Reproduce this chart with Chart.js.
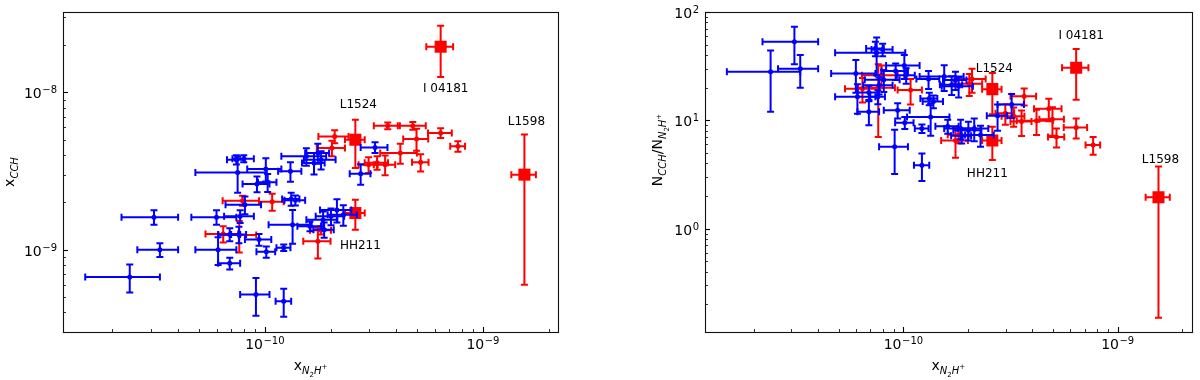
<!DOCTYPE html>
<html><head><meta charset="utf-8">
<script src="https://cdn.jsdelivr.net/npm/chart.js@4.4.1/dist/chart.umd.min.js"></script>
<style>
html,body{margin:0;padding:0;background:#fff;}
#wrap{display:flex;width:1200px;height:380px;}
canvas{display:block;}
</style></head><body>
<div id="wrap"><canvas id="c1" width="600" height="380"></canvas><canvas id="c2" width="600" height="380"></canvas></div>
<script>
// ---------------- DATA ----------------
// Blue sample: x_N2H+ (shared by both panels)
const blueX    = [2.4e-11,3.1e-11,3.3e-11,6.0e-11,6.1e-11,6.9e-11,9.1e-11,1.22e-10,7.5e-11,1.01e-10,1.31e-10,9.2e-11,1.03e-10,1.55e-10,1.68e-10,1.75e-10,1.81e-10,3.2e-10,2.75e-10,7.4e-11,8.0e-11,8.1e-11,7.7e-11,1.32e-10,1.38e-10,1.34e-10,1.61e-10,1.85e-10,2.01e-10,2.14e-10,2.29e-10,1.87e-10,6.9e-11,7.6e-11,9.4e-11,1.015e-10,1.22e-10];
const blueXErr = [0.9e-11,0.9e-11,0.7e-11,1.4e-11,1.3e-11,0.8e-11,1.4e-11,0.1e-10,2.7e-11,0.18e-10,0.16e-10,1.3e-11,0.1e-10,0.36e-10,0.2e-10,0.22e-10,0.3e-10,0.45e-10,0.3e-10,0.7e-11,0.9e-11,1.5e-11,1.2e-11,0.12e-10,0.15e-10,0.3e-10,0.2e-10,0.3e-10,0.3e-10,0.35e-10,0.35e-10,0.2e-10,0.8e-11,0.6e-11,1.3e-11,0.1e-10,0.09e-10];
// Left panel: x_CCH
const blueXcch    = [6.7e-10,1.61e-9,1.0e-9,1.61e-9,1.0e-9,8.2e-10,5.2e-10,4.7e-10,3.1e-9,3.26e-9,3.15e-9,2.62e-9,2.68e-9,3.92e-9,3.56e-9,4.12e-9,3.73e-9,4.47e-9,3.04e-9,3.73e-9,3.79e-9,1.93e-9,1.63e-9,2.1e-9,2.06e-9,1.44e-9,1.41e-9,1.55e-9,1.63e-9,1.79e-9,1.67e-9,1.34e-9,1.25e-9,1.25e-9,1.16e-9,9.7e-10,1.03e-9];
const blueXcchErr = [1.35e-10,0.17e-9,0.1e-9,0.17e-9,0.2e-9,0.7e-10,1.4e-10,0.95e-10,0.8e-9,0.55e-9,0.45e-9,0.3e-9,0.35e-9,0.5e-9,0.55e-9,0.6e-9,0.5e-9,0.35e-9,0.45e-9,0.25e-9,0.2e-9,0.25e-9,0.15e-9,0.2e-9,0.15e-9,0.35e-9,0.1e-9,0.2e-9,0.2e-9,0.3e-9,0.25e-9,0.15e-9,0.12e-9,0.15e-9,0.1e-9,0.8e-10,0.05e-9];
// Right panel: N_CCH / N_N2H+
const blueRatio    = [28,53,30,27,16.5,12,5.7,3.85,42,32,24,28.5,26,25.4,21.3,23.5,20.6,14,11,46,45,23.7,21.1,15.9,14.9,10.7,8.8,8.4,8.1,8.4,7.3,7.2,18.1,16.5,12.4,9.5,8.4];
const blueRatioErr = [16,20,10,9,5,3,2.5,1.1,16,8,4.5,5,4.2,6.8,4.2,4.5,4.4,3.5,3,7,6,5.4,3.8,2.1,2,3.5,1.3,1.7,1.6,2,1.6,1.1,2.7,2.4,2,1.2,0.75];

// Red sample (small markers)
const redX    = [3.66e-10,4.77e-10,6.4e-10,4.96e-10,7.68e-10,4.18e-10,5.18e-10,2.09e-10,2.03e-10,2.99e-10,3.27e-10,3.56e-10,7.9e-11,1.08e-10,6.44e-11,7.63e-11,1.75e-10,1.81e-10];
const redXErr = [0.5e-10,0.7e-10,0.8e-10,0.65e-10,0.6e-10,0.8e-10,0.45e-10,0.33e-10,0.3e-10,0.3e-10,0.4e-10,0.4e-10,1.5e-11,0.14e-10,1.1e-11,1.5e-11,0.25e-10,0.2e-10];
const redXcch    = [6.13e-9,6.13e-9,5.52e-9,5.06e-9,4.54e-9,4.12e-9,3.59e-9,5.25e-9,4.43e-9,3.47e-9,3.57e-9,3.47e-9,2.05e-9,2.02e-9,1.26e-9,1.24e-9,1.13e-9,1.33e-9];
const redXcchErr = [0.3e-9,0.35e-9,0.4e-9,0.8e-9,0.35e-9,0.6e-9,0.45e-9,0.5e-9,0.5e-9,0.4e-9,0.35e-9,0.5e-9,0.15e-9,0.25e-9,0.15e-9,0.28e-9,0.25e-9,0.08e-9];
const redRatio    = [16.7,12.8,8.6,10.2,5.9,9.9,7.0,24,21.8,11.6,10.9,9.75,26,19,19.6,20,6.5,7.35];
const redRatioErr = [3,3,1.8,3,1.1,2.6,1.4,6,5,2.5,2.2,2.6,6,5,5,13,2,1.2];

// Named sources (big red squares)
const srcNames    = ['I 04181','L1524','HH211','L1598'];
const srcX        = [6.4e-10,2.6e-10,2.6e-10,1.55e-9];
const srcXErr     = [0.9e-10,0.27e-10,0.27e-10,0.2e-9];
const srcXcch     = [1.95e-8,5.0e-9,1.71e-9,3.0e-9];
const srcXcchErr  = [0.7e-8,1.7e-9,0.37e-9,2.4e-9];
const srcRatio    = [30.5,19.4,6.5,1.95];
const srcRatioErr = [15,8,2.2,1.8];

// Tick labels (base ^ exponent)
const xMajorTicks = [1e-10, 1e-9];
const xTickLabels = ['10^\u221210', '10^\u22129'];
const leftYMajorTicks = [1e-9, 1e-8];
const leftYTickLabels = ['10^\u22129', '10^\u22128'];
const rightYMajorTicks = [1, 10, 100];
const rightYTickLabels = ['10^0', '10^1', '10^2'];

// ---------------- RENDERING ----------------
const FONT = "'DejaVu Sans', 'Liberation Sans', sans-serif";
const BLUE = '#0000ff', RED = '#ff0000';

function logTicks(min, max) {
  const out = [];
  for (let d = Math.floor(Math.log10(min)); d <= Math.ceil(Math.log10(max)); d++) {
    for (let m = 1; m <= 9; m++) {
      const v = parseFloat((m * Math.pow(10, d)).toPrecision(6));
      if (v >= min * 0.9999 && v <= max * 1.0001) out.push({value: v, major: m === 1});
    }
  }
  return out;
}

const errorBarPlugin = {
  id: 'errbars',
  beforeDatasetDraw(chart, args) {
    const ds = chart.data.datasets[args.index];
    if (!ds.errX) return;
    const xs = chart.scales.x, ys = chart.scales.y, ctx = chart.ctx, a = chart.chartArea;
    ctx.save();
    ctx.beginPath(); ctx.rect(a.left, a.top, a.right - a.left, a.bottom - a.top); ctx.clip();
    ctx.strokeStyle = ds.borderColor; ctx.lineWidth = 2; ctx.lineCap = 'butt';
    const cap = 3.5;
    ds.data.forEach((p, i) => {
      const ex = ds.errX[i], ey = ds.errY[i];
      const px = xs.getPixelForValue(p.x), py = ys.getPixelForValue(p.y);
      const xl = xs.getPixelForValue(p.x - ex > 0 ? p.x - ex : xs.min / 100);
      const xr = xs.getPixelForValue(p.x + ex);
      const yb = ys.getPixelForValue(p.y - ey > 0 ? p.y - ey : ys.min / 100);
      const yt = ys.getPixelForValue(p.y + ey);
      ctx.beginPath();
      ctx.moveTo(xl, py); ctx.lineTo(xr, py);
      ctx.moveTo(px, yb); ctx.lineTo(px, yt);
      ctx.moveTo(xl, py - cap); ctx.lineTo(xl, py + cap);
      ctx.moveTo(xr, py - cap); ctx.lineTo(xr, py + cap);
      ctx.moveTo(px - cap, yb); ctx.lineTo(px + cap, yb);
      ctx.moveTo(px - cap, yt); ctx.lineTo(px + cap, yt);
      ctx.stroke();
    });
    ctx.restore();
  }
};

function drawRich(ctx, segs, x, y, rotate) {
  ctx.save();
  ctx.translate(x, y);
  if (rotate) ctx.rotate(-Math.PI / 2);
  let total = 0;
  segs.forEach(s => { ctx.font = (s.it ? 'italic ' : '') + s.s + 'px ' + FONT; s.w = ctx.measureText(s.t).width; total += s.w; });
  let cx = -total / 2;
  ctx.fillStyle = '#000'; ctx.textBaseline = 'alphabetic'; ctx.textAlign = 'left';
  segs.forEach(s => { ctx.font = (s.it ? 'italic ' : '') + s.s + 'px ' + FONT; ctx.fillText(s.t, cx, s.dy); cx += s.w; });
  ctx.restore();
}

// draws "base^exp" label; align: 'center' or 'right'
function drawPowLabel(ctx, label, x, baseY, align) {
  const parts = label.split('^');
  ctx.save();
  ctx.fillStyle = '#000'; ctx.textBaseline = 'alphabetic'; ctx.textAlign = 'left';
  ctx.font = '14px ' + FONT; const wb = ctx.measureText(parts[0]).width;
  ctx.font = '10px ' + FONT; const we = ctx.measureText(parts[1]).width;
  const w = wb + we + 0.5;
  const x0 = align === 'center' ? x - w / 2 : x - w;
  ctx.font = '14px ' + FONT; ctx.fillText(parts[0], x0, baseY);
  ctx.font = '10px ' + FONT; ctx.fillText(parts[1], x0 + wb + 0.5, baseY - 5);
  ctx.restore();
}

const xTitleSegs = () => [
  {t:'x', s:14, dy:0}, {t:'N', s:10, dy:4, it:true}, {t:'2', s:7, dy:6.5}, {t:'H', s:10, dy:4, it:true}, {t:'+', s:7, dy:-1}
];

const framePlugin = {
  id: 'frame',
  afterDraw(chart) {
    const o = chart.options.plugins.frame;
    const ctx = chart.ctx, a = chart.chartArea, xs = chart.scales.x, ys = chart.scales.y;
    ctx.save();
    // inward ticks
    ctx.strokeStyle = '#000';
    xs.ticks.forEach(t => {
      const p = Math.round(xs.getPixelForValue(t.value)) + 0.5;
      ctx.lineWidth = t.major ? 1.1 : 0.8;
      ctx.beginPath(); ctx.moveTo(p, a.bottom); ctx.lineTo(p, a.bottom - (t.major ? 5 : 3)); ctx.stroke();
    });
    ys.ticks.forEach(t => {
      const p = Math.round(ys.getPixelForValue(t.value)) + 0.5;
      ctx.lineWidth = t.major ? 1.1 : 0.8;
      ctx.beginPath(); ctx.moveTo(a.left, p); ctx.lineTo(a.left + (t.major ? 5 : 3), p); ctx.stroke();
    });
    // spines
    ctx.lineWidth = 1.1; ctx.strokeStyle = '#111';
    ctx.strokeRect(Math.round(a.left) + 0.5, Math.round(a.top) + 0.5, Math.round(a.right - a.left), Math.round(a.bottom - a.top));
    // tick labels
    xMajorTicks.forEach((v, i) => drawPowLabel(ctx, xTickLabels[i], xs.getPixelForValue(v), a.bottom + 17, 'center'));
    o.yMajors.forEach((v, i) => drawPowLabel(ctx, o.yLabels[i], a.left - 6, ys.getPixelForValue(v) + 6, 'right'));
    // source labels
    const big = chart.data.datasets[2];
    ctx.font = '12px ' + FONT; ctx.fillStyle = '#000'; ctx.textAlign = 'center'; ctx.textBaseline = 'middle';
    big.data.forEach((p, i) => {
      const off = o.labelOffsets[big.names[i]];
      ctx.fillText(big.names[i], xs.getPixelForValue(p.x) + off[0], ys.getPixelForValue(p.y) + off[1]);
    });
    ctx.restore();
    // axis titles
    const cx = (a.left + a.right) / 2;
    drawRich(ctx, xTitleSegs(), cx, 370, false);
    drawRich(ctx, o.yTitle, o.yTitlePos[0], o.yTitlePos[1], true);
  }
};

function makeChart(id, cfg) {
  const xTicks = logTicks(cfg.xMin, cfg.xMax);
  const yTicks = logTicks(cfg.yMin, cfg.yMax);
  return new Chart(document.getElementById(id), {
    type: 'scatter',
    data: { datasets: [
      { data: blueX.map((x, i) => ({x, y: cfg.blueY[i]})), errX: blueXErr, errY: cfg.blueYErr,
        backgroundColor: BLUE, borderColor: BLUE, pointRadius: 2.5, pointBorderWidth: 0 },
      { data: redX.map((x, i) => ({x, y: cfg.redY[i]})), errX: redXErr, errY: cfg.redYErr,
        backgroundColor: RED, borderColor: RED, pointRadius: 2.5, pointBorderWidth: 0 },
      { data: srcX.map((x, i) => ({x, y: cfg.srcY[i]})), errX: srcXErr, errY: cfg.srcYErr, names: srcNames,
        backgroundColor: RED, borderColor: RED, pointStyle: 'rect', pointRadius: 8.5, pointBorderWidth: 0 }
    ]},
    options: {
      responsive: false, animation: false, events: [],
      layout: { padding: { left: 0, right: cfg.padRight, top: 12, bottom: 0 } },
      plugins: { legend: {display: false}, tooltip: {enabled: false},
        frame: { labelOffsets: cfg.labelOffsets, yTitle: cfg.yTitle, yTitlePos: cfg.yTitlePos,
                 yMajors: cfg.yMajors, yLabels: cfg.yLabels } },
      scales: {
        x: { type: 'logarithmic', position: 'bottom', min: cfg.xMin, max: cfg.xMax,
          grid: {display: false, drawTicks: false}, border: {display: false},
          afterBuildTicks: s => { s.ticks = xTicks.map(t => ({...t})); },
          afterFit: s => { s.height = 48; },
          ticks: { display: false, autoSkip: false } },
        y: { type: 'logarithmic', position: 'left', min: cfg.yMin, max: cfg.yMax,
          grid: {display: false, drawTicks: false}, border: {display: false},
          afterBuildTicks: s => { s.ticks = yTicks.map(t => ({...t})); },
          afterFit: s => { s.width = cfg.yWidth; },
          ticks: { display: false, autoSkip: false } }
      }
    },
    plugins: [errorBarPlugin, framePlugin]
  });
}

makeChart('c1', {
  xMin: 1.186e-11, xMax: 2.21e-9, yMin: 3.0e-10, yMax: 3.24e-8,
  blueY: blueXcch, blueYErr: blueXcchErr, redY: redXcch, redYErr: redXcchErr, srcY: srcXcch, srcYErr: srcXcchErr,
  yMajors: leftYMajorTicks, yLabels: leftYTickLabels, yWidth: 63, padRight: 42,
  labelOffsets: {'I 04181': [5, 42], 'L1524': [3, -35], 'HH211': [5, 33], 'L1598': [2, -53]},
  yTitle: [{t:'x', s:14, dy:0}, {t:'CCH', s:10, dy:4, it:true}], yTitlePos: [14, 172]
});
makeChart('c2', {
  xMin: 1.186e-11, xMax: 2.21e-9, yMin: 0.111, yMax: 100,
  blueY: blueRatio, blueYErr: blueRatioErr, redY: redRatio, redYErr: redRatioErr, srcY: srcRatio, srcYErr: srcRatioErr,
  yMajors: rightYMajorTicks, yLabels: rightYTickLabels, yWidth: 105, padRight: 2,
  labelOffsets: {'I 04181': [5, -32], 'L1524': [2, -20], 'HH211': [-5, 33], 'L1598': [2, -37]},
  yTitle: [{t:'N', s:14, dy:0}, {t:'CCH', s:10, dy:4, it:true}, {t:'/N', s:14, dy:0},
           {t:'N', s:10, dy:4, it:true}, {t:'2', s:7, dy:6.5}, {t:'H', s:10, dy:4, it:true}, {t:'+', s:7, dy:-1}],
  yTitlePos: [62, 150]
});
</script>
</body></html>
